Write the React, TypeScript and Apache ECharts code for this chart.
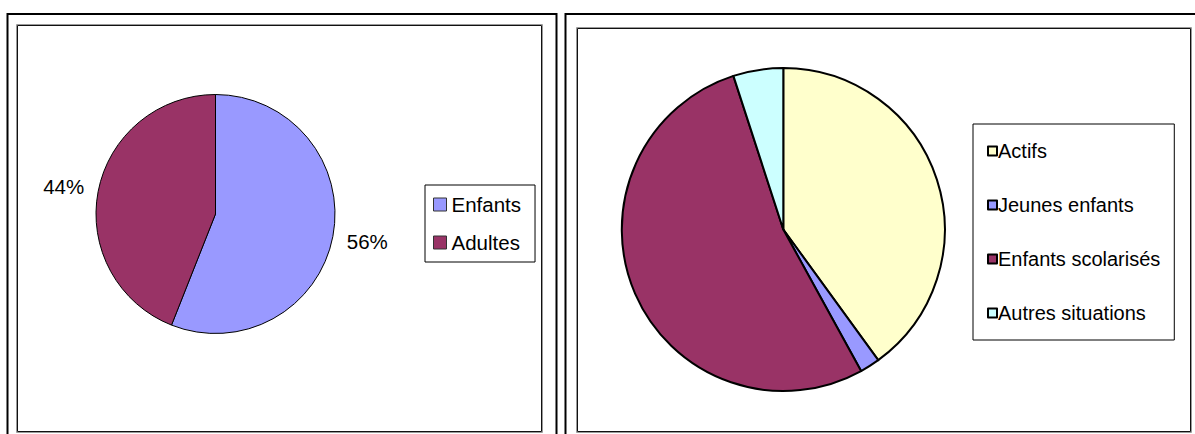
import React, { useEffect, useRef } from "react";
import * as echarts from "echarts";

const leftCategories = ["Enfants", "Adultes"];
const leftValues = [56, 44];
const leftColors = ["#9999FF", "#993366"];

const rightCategories = ["Actifs", "Jeunes enfants", "Enfants scolarisés", "Autres situations"];
const rightValues = [40, 2, 53, 5];
const rightColors = ["#FFFFCC", "#9999FF", "#993366", "#CCFFFF"];

const FONT = "'Liberation Sans', Arial, sans-serif";

export default function App() {
  const ref = useRef<HTMLDivElement>(null);
  useEffect(() => {
    if (!ref.current) return;
    const chart = echarts.init(ref.current, null, { renderer: "svg" });
    const rectStyle = (stroke: string, lw: number) => ({ fill: "none", stroke, lineWidth: lw });
    chart.setOption({
      animation: false,
      backgroundColor: "#ffffff",
      textStyle: { fontFamily: FONT },
      graphic: [
        { type: "rect", silent: true, shape: { x: 7.5, y: 14, width: 549, height: 440 }, style: rectStyle("#000", 2) },
        { type: "rect", silent: true, shape: { x: 16.5, y: 24.5, width: 526, height: 408 }, style: rectStyle("#9a9a9a", 1) },
        { type: "rect", silent: true, shape: { x: 17.5, y: 25.5, width: 524, height: 406 }, style: rectStyle("#111", 1) },
        { type: "rect", silent: true, shape: { x: 565.5, y: 14, width: 660, height: 440 }, style: rectStyle("#000", 2) },
        { type: "rect", silent: true, shape: { x: 576.5, y: 27.5, width: 615, height: 405 }, style: rectStyle("#9a9a9a", 1) },
        { type: "rect", silent: true, shape: { x: 577.5, y: 28.5, width: 613, height: 403 }, style: rectStyle("#111", 1) },
      ],
      legend: [
        {
          data: leftCategories,
          orient: "vertical",
          left: 425,
          top: 185,
          padding: [9, 14, 9, 8],
          itemGap: 17,
          itemWidth: 13,
          itemHeight: 13,
          icon: "rect",
          borderColor: "#000",
          borderWidth: 1,
          itemStyle: { borderColor: "#333", borderWidth: 1 },
          textStyle: { fontFamily: FONT, fontSize: 20.5, color: "#000", padding: [0, 0, 0, 0] },
          selectedMode: false,
        },
        {
          data: rightCategories,
          orient: "vertical",
          left: 973,
          top: 124,
          padding: [17, 14, 17, 14],
          itemGap: 34,
          itemWidth: 9,
          itemHeight: 9,
          icon: "rect",
          borderColor: "#000",
          borderWidth: 1,
          itemStyle: { borderColor: "#000", borderWidth: 2 },
          textStyle: { fontFamily: FONT, fontSize: 20, color: "#000", padding: [0, 0, 0, -4] },
          selectedMode: false,
        },
      ],
      series: [
        {
          type: "pie",
          center: [215.5, 214],
          radius: 119.5,
          startAngle: 90,
          clockwise: true,
          avoidLabelOverlap: false,
          silent: true,
          data: leftCategories.map((name, i) => ({
            name,
            value: leftValues[i],
            itemStyle: { color: leftColors[i] },
          })),
          itemStyle: { borderColor: "#000", borderWidth: 1 },
          label: {
            show: true,
            position: "outside",
            formatter: (p: any) => `${Math.round(p.percent)}%`,
            fontFamily: FONT,
            fontSize: 20.5,
            color: "#000",
          },
          labelLine: { show: false, length: 6, length2: 3 },
          labelLayout: (p: any) => ({ dy: p.dataIndex === 0 ? 4 : -4 }),
        },
        {
          type: "pie",
          center: [783.3, 229.5],
          radius: 161.5,
          startAngle: 90,
          clockwise: true,
          silent: true,
          data: rightCategories.map((name, i) => ({
            name,
            value: rightValues[i],
            itemStyle: { color: rightColors[i] },
          })),
          itemStyle: { borderColor: "#000", borderWidth: 2 },
          label: { show: false },
          labelLine: { show: false },
        },
      ],
    });
    return () => chart.dispose();
  }, []);
  return (
    <div
      ref={ref}
      style={{ position: "absolute", left: 0, top: 0, width: 1195, height: 434 }}
    />
  );
}
